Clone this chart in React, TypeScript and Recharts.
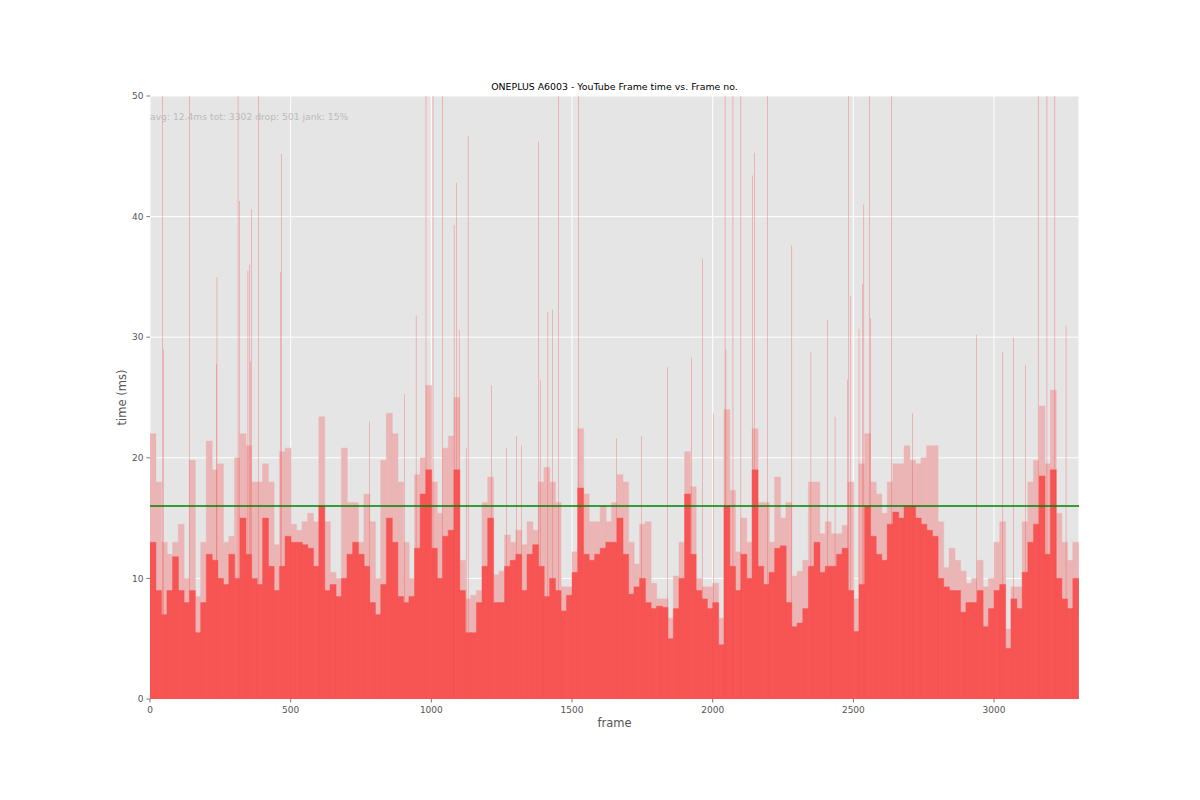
import React from 'react';
import { ComposedChart, Bar, XAxis, YAxis, CartesianGrid, ReferenceLine } from 'recharts';

// ---- data ----
const FRAME_COUNT = 3302;
const BIN_SIZE = 20; // each bin summarises 20 consecutive frames

// solid (lower) frame time level in each 20-frame bin, ms
const lowValues = [
  13, 9, 7, 9, 11.8, 9, 8, 9, 5.5, 8,
  12, 11.5, 10, 9.5, 12, 10, 15, 12, 10, 9.5,
  15, 11, 9, 11, 13.5, 13, 13, 12.8, 12.5, 11,
  16, 9, 9.5, 8.5, 10, 12, 13, 12, 11, 8,
  7, 9.5, 15, 13, 8.5, 8, 8.5, 12.5, 17, 19,
  12.5, 10, 13.5, 14, 19, 9, 5.5, 5.5, 8, 11,
  15, 8, 8, 11, 11.5, 12, 9, 12, 12.8, 11,
  8.5, 10, 9, 7.3, 8.6, 10.5, 17.5, 12, 11.5, 12,
  12.5, 13, 13, 15, 12, 8.7, 9.3, 10, 8, 7.5,
  7.7, 7.6, 5, 7.5, 10, 17, 12, 9, 8.3, 7.5,
  8, 4.5, 16, 11, 9, 12, 10, 19, 11, 9.5,
  10.5, 12.5, 12.7, 8, 6, 6.3, 7.5, 11, 13, 10.5,
  11, 11, 12, 12.5, 9, 5.6, 9.5, 16, 13.5, 12,
  11.5, 14.5, 15.5, 15, 16, 16, 15, 14.5, 14, 13.5,
  10, 9.3, 9, 9, 7.2, 8, 8, 9, 6, 7.5,
  9, 9.5, 4.2, 8.3, 7.5, 10.5, 13, 14.5, 18.5, 12,
  19, 10, 8.3, 7.5, 10,
];

// light (upper) frame time envelope in each 20-frame bin, ms
const highValues = [
  22, 18, 13, 12, 13, 14.5, 10, 19.8, 8.5, 13,
  21.4, 19, 19.5, 13, 13.5, 20, 22, 21, 18, 18,
  19.5, 18, 12.8, 20.5, 20.8, 14.5, 14, 14.7, 15.4, 14.7,
  23.4, 14.7, 10.5, 10, 20.8, 16.3, 16.3, 13, 17, 14.7,
  10, 19.8, 23.7, 22, 18, 13, 10, 18.6, 20, 26,
  18, 15.4, 20.8, 21.8, 25, 11.5, 8.3, 8.6, 9, 16.3,
  18.4, 10.3, 10.6, 13.6, 13, 14, 12.8, 14.7, 14, 18,
  19.2, 18, 16.3, 9.3, 9.3, 12.2, 22.4, 17, 14.7, 14.7,
  16, 14.7, 16.3, 18.6, 18, 13, 11.2, 14.5, 14.7, 9.6,
  8.3, 8.3, 6.7, 10.2, 13, 20.5, 17.6, 10, 9.3, 9.3,
  9.6, 6.7, 24, 17.3, 12.2, 15, 13, 22.4, 16.3, 16.3,
  13, 18.4, 15, 16.3, 10.2, 10.6, 11.5, 18, 18, 13.7,
  14.7, 13.7, 13.7, 14.4, 18, 8.3, 19.5, 22, 18, 17,
  15.4, 18, 19.5, 19.5, 21, 19.8, 19.5, 20, 21, 21,
  14.7, 10.9, 12.5, 11.5, 10.6, 9.6, 10, 11.5, 9.3, 10,
  13, 14.7, 5.8, 9.3, 9.3, 14.7, 18, 19.8, 24.3, 19.5,
  25.6, 15.4, 13, 11.5, 13,
];

// isolated long frames (spikes); values above 50 run off the top of the plot
const spikeFrames = [
  44, 48, 140, 236, 238, 313, 318, 348, 354, 358,
  361, 386, 464, 467, 780, 904, 946, 981, 1006, 1039,
  1081, 1090, 1099, 1124, 1131, 1213, 1267, 1303, 1320, 1381,
  1387, 1414, 1430, 1452, 1523, 1658, 1747, 1840, 1925, 1964,
  2003, 2044, 2047, 2072, 2100, 2142, 2148, 2194, 2281, 2349,
  2409, 2435, 2480, 2483, 2490, 2520, 2533, 2537, 2558, 2561,
  2636, 2711, 2937, 3031, 3069, 3111, 3157, 3188, 3216, 3256,
];
const spikeValues = [
  60, 29, 60, 27.8, 35, 60, 41.3, 35.5, 36, 28,
  40.6, 60, 35.4, 45.2, 23, 25.3, 31.8, 60, 60, 60,
  39.3, 42.8, 30.6, 20.8, 46.7, 26, 20.8, 21.8, 21, 46.2,
  26.5, 32.1, 32.3, 60, 60, 21.6, 21.8, 27.5, 28.3, 36.5,
  23.7, 60, 29, 60, 60, 43.4, 45.3, 60, 37.6, 28.8,
  31.4, 23.4, 26.5, 60, 33.4, 30.7, 34.4, 41, 60, 31.6,
  60, 23.7, 30.2, 28.8, 30, 27.7, 60, 60, 60, 31,
];

const xTicks = [0, 500, 1000, 1500, 2000, 2500, 3000];
const yTicks = [0, 10, 20, 30, 40, 50];
const Y_MAX = 50;
const jankThreshold = 16;

const titleText = 'ONEPLUS A6003 - YouTube Frame time vs. Frame no.';
const statsText = 'avg: 12.4ms tot: 3302 drop: 501 jank: 15%';
const xLabel = 'frame';
const yLabel = 'time (ms)';

// tables built from the arrays
const binRows = lowValues.map((v, i) => ({
  frame: i * BIN_SIZE + BIN_SIZE / 2,
  low: v,
  high: highValues[i],
}));
const spikeRows = spikeFrames.map((f, i) => ({ frame: f, spike: spikeValues[i] }));

// ---- layout / style ----
const W = 1200;
const H = 800;
const PLOT_LEFT = 150;
const PLOT_TOP = 96;
const PLOT_RIGHT = 1079;
const PLOT_BOTTOM = 699;
const Y_AXIS_W = 40;
const X_AXIS_H = 30;
const FONT = '"DejaVu Sans", Verdana, sans-serif';

const SOLID = '#F75454';
const LIGHT = '#EBB5B5';
const BG = '#E5E5E5';
const TICK = '#555555';

const baseMargin = {
  top: PLOT_TOP,
  right: W - PLOT_RIGHT,
  bottom: H - PLOT_BOTTOM - X_AXIS_H,
  left: PLOT_LEFT - Y_AXIS_W,
};
const overlayMargin = {
  top: PLOT_TOP,
  right: W - PLOT_RIGHT,
  bottom: H - PLOT_BOTTOM,
  left: PLOT_LEFT,
};

const layer: React.CSSProperties = { position: 'absolute', left: 0, top: 0 };

export default function App() {
  return (
    <div style={{ position: 'absolute', left: 0, top: 0, width: W, height: H, background: '#ffffff', fontFamily: FONT }}>
      {/* base: background, grid, axes, binned frame times */}
      <div style={layer}>
        <ComposedChart width={W} height={H} data={binRows} margin={baseMargin} barCategoryGap={0} barGap={0}>
          <CartesianGrid stroke="#ffffff" strokeWidth={1} fill={BG} fillOpacity={1} />
          <XAxis
            xAxisId={0}
            type="number"
            dataKey="frame"
            domain={[0, FRAME_COUNT]}
            ticks={xTicks}
            allowDataOverflow
            height={X_AXIS_H}
            axisLine={false}
            tickSize={3.5}
            tickMargin={4}
            tickLine={{ stroke: TICK, strokeWidth: 0.8 }}
            tick={{ fontSize: 9, fill: TICK, fontFamily: FONT }}
          />
          <XAxis xAxisId="hi" type="number" dataKey="frame" domain={[0, FRAME_COUNT]} allowDataOverflow hide />
          <YAxis
            type="number"
            domain={[0, Y_MAX]}
            ticks={yTicks}
            allowDataOverflow
            width={Y_AXIS_W}
            axisLine={false}
            tickSize={3.5}
            tickMargin={3}
            tickLine={{ stroke: TICK, strokeWidth: 0.8 }}
            tick={{ fontSize: 9, fill: TICK, fontFamily: FONT }}
          />
          <Bar xAxisId="hi" dataKey="high" fill={LIGHT} stroke={LIGHT} strokeWidth={0.4} isAnimationActive={false} />
          <Bar xAxisId={0} dataKey="low" fill={SOLID} stroke={SOLID} strokeWidth={0.4} isAnimationActive={false} />
        </ComposedChart>
      </div>
      {/* overlay: single long frames and the 16 ms jank threshold */}
      <div style={layer}>
        <ComposedChart width={W} height={H} data={spikeRows} margin={overlayMargin} barCategoryGap={0} barGap={0}>
          <XAxis type="number" dataKey="frame" domain={[0, FRAME_COUNT]} allowDataOverflow hide />
          <YAxis type="number" domain={[0, Y_MAX]} allowDataOverflow hide />
          <Bar dataKey="spike" fill={SOLID} fillOpacity={0.6} isAnimationActive={false} />
          <ReferenceLine y={jankThreshold} stroke="#008000" strokeWidth={1.5} ifOverflow="hidden" />
        </ComposedChart>
      </div>
      {/* text */}
      <svg width={W} height={H} style={{ ...layer, pointerEvents: 'none' }}>
        <text x={614.5} y={90} textAnchor="middle" fontSize={9.4} fill="#000000" fontFamily={FONT}>
          {titleText}
        </text>
        <text x={150} y={120} textAnchor="start" fontSize={9.2} fill="#BBBBBB" fontFamily={FONT}>
          {statsText}
        </text>
        <text x={614.5} y={727} textAnchor="middle" fontSize={11.5} fill={TICK} fontFamily={FONT}>
          {xLabel}
        </text>
        <text
          x={126}
          y={397.5}
          textAnchor="middle"
          fontSize={11.5}
          fill={TICK}
          fontFamily={FONT}
          transform="rotate(-90 126 397.5)"
        >
          {yLabel}
        </text>
      </svg>
    </div>
  );
}
